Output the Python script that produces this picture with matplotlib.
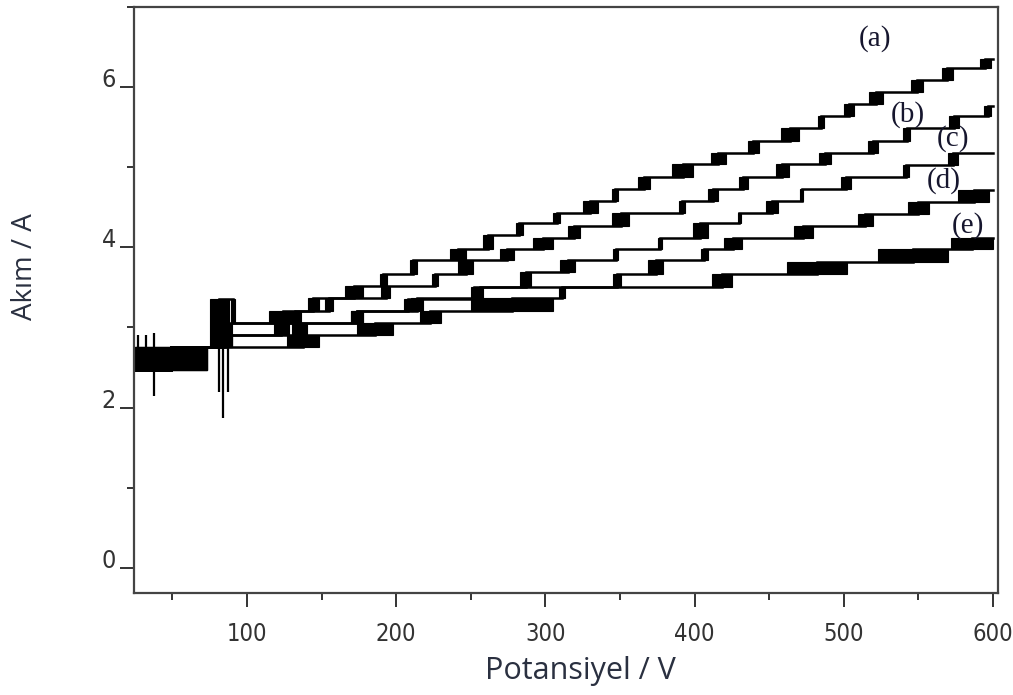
import matplotlib
matplotlib.use("Agg")
import matplotlib.pyplot as plt

# ---- data: staircase current curves (potential in V, current in A) ----
x_start, x_end = 25, 600

# curve (a)
a_steps = [25, 75, 89, 115, 141, 166, 189, 209, 236, 258, 280, 305, 325, 345, 362,
           385, 411, 436, 458, 483, 500, 517, 545, 566, 591]
a_widths = [48, 13, 3, 18, 7, 12, 5, 5, 11, 7, 5, 5, 10, 4, 8,
            14, 10, 7, 12, 4, 7, 9, 8, 7, 8]
a_levels = [2.47, 2.75, 3.36, 3.06, 3.21, 3.37, 3.52, 3.67, 3.84, 3.98, 4.15, 4.30, 4.43,
            4.58, 4.73, 4.87, 5.04, 5.18, 5.33, 5.49, 5.64, 5.79, 5.93, 6.08, 6.23, 6.35]

# curve (b)
b_steps = [25, 76, 128, 152, 190, 224, 241.6, 269.8, 292, 315.4, 345, 389.3, 408.7,
           429.5, 454.4, 483.2, 516.1, 539.6, 570.5, 594]
b_widths = [48, 14, 8, 6, 6, 4, 10, 9, 13, 8, 11, 4, 7, 6, 9, 8, 7, 5, 7, 5]
b_levels = [2.47, 2.75, 3.06, 3.21, 3.37, 3.52, 3.67, 3.84, 3.98, 4.12, 4.27, 4.43,
            4.58, 4.73, 4.87, 5.04, 5.17, 5.33, 5.49, 5.64, 5.76]

# curve (c)
c_steps = [25, 78, 118, 170, 205, 254.4, 283.2, 310, 345.6, 375.2, 398.7, 428.9,
           447.7, 471, 498, 539.6, 569.8]
c_widths = [48, 12, 10, 8, 6, 4, 7, 10, 3, 3, 10, 2, 8, 2, 7, 4, 7]
c_levels = [2.47, 2.75, 2.90, 3.06, 3.21, 3.36, 3.50, 3.69, 3.84, 3.98, 4.12, 4.30,
            4.43, 4.58, 4.73, 4.87, 5.02, 5.17]

# curve (d)
d_steps = [25, 80, 130, 170, 210, 250, 345.6, 369, 404, 419.5, 466.4, 509.4, 543, 576.5]
d_widths = [48, 10, 10, 8, 8, 5, 5, 10, 5, 12, 13, 10, 14, 21]
d_levels = [2.47, 2.75, 2.90, 3.06, 3.21, 3.37, 3.50, 3.67, 3.84, 3.98, 4.12, 4.27,
            4.42, 4.56, 4.71]

# curve (e)
e_steps = [25, 127, 174, 216, 250, 309, 412, 462, 523, 572]
e_widths = [48, 21, 24, 14, 55, 4, 13, 40, 47, 28]
e_levels = [2.47, 2.75, 2.90, 3.06, 3.21, 3.37, 3.50, 3.67, 3.82, 3.98, 4.11]

# isolated single-sample excursions: (x, low, high)
spike_x = [38, 84, 81, 87, 27, 32]
spike_lo = [2.15, 1.87, 2.20, 2.20, 2.62, 2.62]
spike_hi = [2.93, 3.36, 2.75, 2.75, 2.90, 2.90]

curve_names = ["(a)", "(b)", "(c)", "(d)", "(e)"]
name_x = [521, 543, 573, 567, 583]
name_y = [6.60, 5.66, 5.35, 4.83, 4.27]

x_major = [100, 200, 300, 400, 500, 600]
x_minor = [50, 150, 250, 350, 450, 550]
y_major = [0, 2, 4, 6]
y_minor = [1, 3, 5, 7]

# ---- figure ----
fig = plt.figure(figsize=(10.13, 6.95), dpi=100)
ax = fig.add_axes([0.1323, 0.1468, 0.8529, 0.8438])

curves = [
    (a_steps, a_widths, a_levels),
    (b_steps, b_widths, b_levels),
    (c_steps, c_widths, c_levels),
    (d_steps, d_widths, d_levels),
    (e_steps, e_widths, e_levels),
]

for steps, widths, levels in curves:
    # base staircase: level changes in the middle of each switching window
    xs = [x_start] + [s + w / 2 for s, w in zip(steps, widths)] + [x_end]
    ys = list(levels) + [levels[-1]]
    ax.step(xs, ys, where="post", color="black", lw=1.8, solid_joinstyle="miter")
    # switching windows where the signal toggles between neighbouring levels
    lows = [min(levels[i], levels[i + 1]) for i in range(len(steps))]
    highs = [max(levels[i], levels[i + 1]) for i in range(len(steps))]
    ax.bar(steps, [h - l for h, l in zip(highs, lows)], bottom=lows,
           width=widths, align="edge", color="black", edgecolor="black", lw=0.8)

ax.vlines(spike_x, spike_lo, spike_hi, color="black", lw=1.6)

for name, nx, ny in zip(curve_names, name_x, name_y):
    ax.text(nx, ny, name, family="Liberation Serif", fontsize=21,
            color="#16162e", ha="center", va="center")

ax.set_xlim(24.3, 603.4)
ax.set_ylim(-0.31, 7.0)

tick_font = dict(family="DejaVu Sans", fontstretch="condensed")
ax.set_xticks(x_major)
ax.set_xticks(x_minor, minor=True)
ax.set_yticks(y_major)
ax.set_yticks(y_minor, minor=True)
ax.set_xticklabels([str(v) for v in x_major], fontsize=17, color="#333333", **tick_font)
ax.set_yticklabels([str(v) for v in y_major], fontsize=18, color="#333333", **tick_font)

ax.tick_params(axis="both", which="major", direction="out", length=10, width=1.4,
               color="#333333")
ax.tick_params(axis="both", which="minor", direction="out", length=5, width=1.4,
               color="#333333")
ax.tick_params(axis="x", which="major", pad=11)
ax.tick_params(axis="y", which="major", pad=3)
for t in ax.yaxis.get_major_ticks():
    t.label1.set_verticalalignment("baseline")

for sp in ax.spines.values():
    sp.set_color("#444444")
    sp.set_linewidth(1.6)

fig.text(580 / 1013, 1 - 671 / 695, "Potansiyel / V", family="Open Sans",
         fontsize=22, color="#2a3040", ha="center", va="center")
fig.text(25 / 1013, 1 - 267 / 695, "Akım / A", family="Open Sans",
         fontsize=20, color="#2a3040", ha="center", va="center", rotation=90)

fig.savefig("out.png", dpi=100)
